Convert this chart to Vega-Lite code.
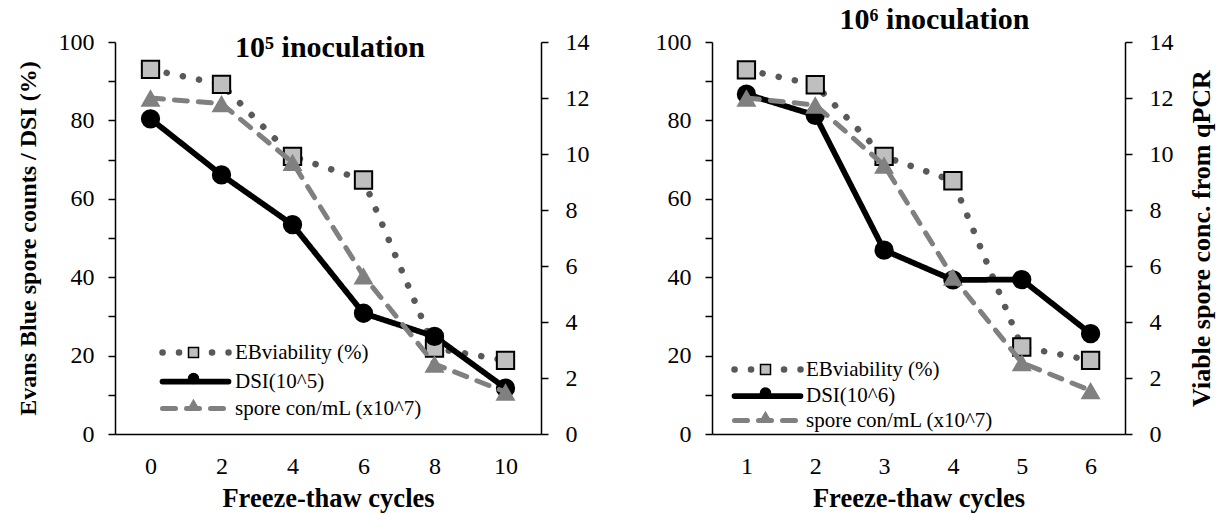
{
  "$schema": "https://vega.github.io/schema/vega-lite/v6.json",
  "background": "white",
  "padding": {"left": 16, "top": 5, "right": 5, "bottom": 2},
  "spacing": 171,
  "bounds": "flush",
  "config": {
    "view": {"stroke": null},
    "font": "Liberation Serif",
    "axis": {
      "grid": false,
      "labelFont": "Liberation Serif",
      "labelFontSize": 24,
      "labelColor": "black",
      "titleFont": "Liberation Serif",
      "titleFontSize": 24,
      "titleFontWeight": "bold",
      "titleColor": "black",
      "domainColor": "black",
      "domainWidth": 1.5,
      "tickColor": "black",
      "tickWidth": 1.5,
      "tickSize": 7,
      "labelPadding": 14
    }
  },
  "datasets": {
    "a": [
      {"cycle": 0, "series": "EBviability (%)", "value": 93.0},
      {"cycle": 2, "series": "EBviability (%)", "value": 89.2},
      {"cycle": 4, "series": "EBviability (%)", "value": 70.8},
      {"cycle": 6, "series": "EBviability (%)", "value": 64.8},
      {"cycle": 8, "series": "EBviability (%)", "value": 21.9},
      {"cycle": 10, "series": "EBviability (%)", "value": 18.8},
      {"cycle": 0, "series": "DSI(10^5)", "value": 80.4},
      {"cycle": 2, "series": "DSI(10^5)", "value": 66.1},
      {"cycle": 4, "series": "DSI(10^5)", "value": 53.4},
      {"cycle": 6, "series": "DSI(10^5)", "value": 30.8},
      {"cycle": 8, "series": "DSI(10^5)", "value": 24.9},
      {"cycle": 10, "series": "DSI(10^5)", "value": 11.7},
      {"cycle": 0, "series": "spore con/mL (x10^7)", "value": 12.0},
      {"cycle": 2, "series": "spore con/mL (x10^7)", "value": 11.8},
      {"cycle": 4, "series": "spore con/mL (x10^7)", "value": 9.7},
      {"cycle": 6, "series": "spore con/mL (x10^7)", "value": 5.65},
      {"cycle": 8, "series": "spore con/mL (x10^7)", "value": 2.5},
      {"cycle": 10, "series": "spore con/mL (x10^7)", "value": 1.5}
    ],
    "b": [
      {"cycle": 1, "series": "EBviability (%)", "value": 92.9},
      {"cycle": 2, "series": "EBviability (%)", "value": 89.1},
      {"cycle": 3, "series": "EBviability (%)", "value": 70.8},
      {"cycle": 4, "series": "EBviability (%)", "value": 64.6},
      {"cycle": 5, "series": "EBviability (%)", "value": 22.2},
      {"cycle": 6, "series": "EBviability (%)", "value": 18.8},
      {"cycle": 1, "series": "DSI(10^6)", "value": 86.7},
      {"cycle": 2, "series": "DSI(10^6)", "value": 81.3},
      {"cycle": 3, "series": "DSI(10^6)", "value": 46.9},
      {"cycle": 4, "series": "DSI(10^6)", "value": 39.3},
      {"cycle": 5, "series": "DSI(10^6)", "value": 39.4},
      {"cycle": 6, "series": "DSI(10^6)", "value": 25.6},
      {"cycle": 1, "series": "spore con/mL (x10^7)", "value": 12.0},
      {"cycle": 2, "series": "spore con/mL (x10^7)", "value": 11.75},
      {"cycle": 3, "series": "spore con/mL (x10^7)", "value": 9.6},
      {"cycle": 4, "series": "spore con/mL (x10^7)", "value": 5.6},
      {"cycle": 5, "series": "spore con/mL (x10^7)", "value": 2.55},
      {"cycle": 6, "series": "spore con/mL (x10^7)", "value": 1.55}
    ]
  },
  "resolve": {
    "scale": {"stroke": "independent", "strokeDash": "independent", "strokeWidth": "independent", "shape": "independent", "fill": "independent"},
    "legend": {"stroke": "independent", "strokeDash": "independent", "shape": "independent", "fill": "independent"}
  },
  "hconcat": [
    {
      "width": 426,
      "height": 392,
      "data": {"name": "a"},
      "title": {"text": "10⁵ inoculation", "font": "Liberation Serif", "fontSize": 30, "fontWeight": "bold", "color": "black", "anchor": "middle", "baseline": "middle", "offset": -48, "dx": 2},
      "encoding": {
        "x": {"field": "cycle", "type": "ordinal", "scale": {"type": "point", "padding": 0.5},
          "axis": {"title": "Freeze-thaw cycles", "titleFontSize": 26.5, "labelAngle": 0, "ticks": false, "labelPadding": 20, "titlePadding": 7}}
      },
      "layer": [
        {
          "transform": [{"filter": "datum.series !== 'spore con/mL (x10^7)'"}],
          "encoding": {
            "y": {"field": "value", "type": "quantitative", "scale": {"domain": [0, 100], "nice": false},
              "axis": {"values": [0, 10, 20, 30, 40, 50, 60, 70, 80, 90, 100], "labelExpr": "datum.value % 20 === 0 ? datum.label : ''", "title": "Evans Blue spore counts / DSI (%)", "titlePadding": 18}}
          },
          "layer": [
            {
              "mark": {"type": "line", "strokeCap": "round", "strokeJoin": "round"},
              "encoding": {
                "stroke": {"field": "series", "type": "nominal",
                  "scale": {"domain": ["EBviability (%)", "DSI(10^5)", "spore con/mL (x10^7)"], "range": ["#595959", "#000000", "#808080"]},
                  "legend": {"orient": "none", "legendX": 70, "legendY": 300, "title": null, "symbolType": "M-5.5,0H5.5", "symbolSize": 144, "symbolStrokeWidth": 5.5, "labelOffset": 29, "labelFont": "Liberation Serif", "labelFontSize": 21, "labelColor": "black", "labelLimit": 400, "rowPadding": 4, "padding": 0,
                    "encode": {"symbols": {"update": {"strokeCap": {"value": "round"}}}}}},
                "strokeDash": {"field": "series", "type": "nominal",
                  "scale": {"domain": ["EBviability (%)", "DSI(10^5)", "spore con/mL (x10^7)"], "range": [[0.1, 16.4], [1, 0], [13, 11]]},
                  "legend": {"orient": "none", "legendX": 70, "legendY": 300, "title": null, "symbolType": "M-5.5,0H5.5", "symbolSize": 144, "symbolStrokeWidth": 5.5, "labelOffset": 29, "labelFont": "Liberation Serif", "labelFontSize": 21, "labelColor": "black", "labelLimit": 400, "rowPadding": 4, "padding": 0,
                    "encode": {"symbols": {"update": {"strokeCap": {"value": "round"}}}}}},
                "strokeWidth": {"field": "series", "type": "nominal",
                  "scale": {"type": "point", "padding": 0, "domain": ["EBviability (%)", "DSI(10^5)", "spore con/mL (x10^7)"], "range": [6.5, 5]}, "legend": null}
              }
            },
            {
              "mark": {"type": "point", "filled": true, "opacity": 1, "strokeWidth": 2, "size": 300,
                "stroke": {"expr": "datum.value === 'spore con/mL (x10^7)' ? '#808080' : 'black'"}},
              "encoding": {
                "shape": {"field": "series", "type": "nominal", "sort": ["EBviability (%)", "DSI(10^5)", "spore con/mL (x10^7)"],
                  "scale": {"range": ["square", "circle", "triangle-up"]}, "legend": null},
                "fill": {"field": "series", "type": "nominal", "sort": ["EBviability (%)", "DSI(10^5)", "spore con/mL (x10^7)"],
                  "scale": {"range": ["#BFBFBF", "#000000", "#808080"]},
                  "legend": {"orient": "none", "legendX": 68, "legendY": 300, "title": null, "labelOpacity": 0, "labelFont": "Liberation Serif", "labelFontSize": 21, "labelLimit": 400, "rowPadding": 4, "padding": 0, "symbolOpacity": 1,
                    "symbolType": {"expr": "datum.value === 'spore con/mL (x10^7)' ? 'triangle-up' : (datum.value === 'EBviability (%)' ? 'square' : 'circle')"},
                    "encode": {"symbols": {"update": {
                      "strokeWidth": {"value": 1.5},
                      "size": [{"test": "datum.value === 'spore con/mL (x10^7)'", "value": 150}, {"value": 100}]}}}}}
              }
            }
          ]
        },
        {
          "transform": [{"filter": "datum.series === 'spore con/mL (x10^7)'"}],
          "encoding": {
            "y": {"field": "value", "type": "quantitative", "scale": {"domain": [0, 14], "nice": false},
              "axis": {"orient": "right", "values": [0, 2, 4, 6, 8, 10, 12, 14], "title": null, "labelPadding": 17}}
          },
          "layer": [
            {
              "mark": {"type": "line", "strokeCap": "round", "strokeJoin": "round"},
              "encoding": {
                "stroke": {"field": "series", "type": "nominal"},
                "strokeDash": {"field": "series", "type": "nominal"},
                "strokeWidth": {"field": "series", "type": "nominal", "legend": null}
              }
            },
            {
              "mark": {"type": "point", "filled": true, "opacity": 1, "strokeWidth": 0, "size": 400},
              "encoding": {
                "shape": {"field": "series", "type": "nominal", "sort": ["EBviability (%)", "DSI(10^5)", "spore con/mL (x10^7)"], "legend": null},
                "fill": {"field": "series", "type": "nominal", "sort": ["EBviability (%)", "DSI(10^5)", "spore con/mL (x10^7)"]}
              }
            }
          ]
        }
      ],
      "resolve": {"scale": {"y": "independent"}}
    },
    {
      "width": 413,
      "height": 392,
      "data": {"name": "b"},
      "title": {"text": "10⁶ inoculation", "font": "Liberation Serif", "fontSize": 30, "fontWeight": "bold", "color": "black", "anchor": "middle", "baseline": "middle", "offset": -20, "dx": 16},
      "encoding": {
        "x": {"field": "cycle", "type": "ordinal", "scale": {"type": "point", "padding": 0.5},
          "axis": {"title": "Freeze-thaw cycles", "titleFontSize": 26.5, "labelAngle": 0, "ticks": false, "labelPadding": 20, "titlePadding": 7}}
      },
      "layer": [
        {
          "transform": [{"filter": "datum.series !== 'spore con/mL (x10^7)'"}],
          "encoding": {
            "y": {"field": "value", "type": "quantitative", "scale": {"domain": [0, 100], "nice": false},
              "axis": {"values": [0, 10, 20, 30, 40, 50, 60, 70, 80, 90, 100], "labelExpr": "datum.value % 20 === 0 ? datum.label : ''", "title": null}}
          },
          "layer": [
            {
              "mark": {"type": "line", "strokeCap": "round", "strokeJoin": "round"},
              "encoding": {
                "stroke": {"field": "series", "type": "nominal",
                  "scale": {"domain": ["EBviability (%)", "DSI(10^6)", "spore con/mL (x10^7)"], "range": ["#595959", "#000000", "#808080"]},
                  "legend": {"orient": "none", "legendX": 45, "legendY": 317, "title": null, "symbolType": "M-5.5,0H5.5", "symbolSize": 144, "symbolStrokeWidth": 5.5, "labelOffset": 28, "labelFont": "Liberation Serif", "labelFontSize": 21, "labelColor": "black", "labelLimit": 400, "rowPadding": 1.5, "padding": 0,
                    "encode": {"symbols": {"update": {"strokeCap": {"value": "round"}}}}}},
                "strokeDash": {"field": "series", "type": "nominal",
                  "scale": {"domain": ["EBviability (%)", "DSI(10^6)", "spore con/mL (x10^7)"], "range": [[0.1, 16.4], [1, 0], [13, 11]]},
                  "legend": {"orient": "none", "legendX": 45, "legendY": 317, "title": null, "symbolType": "M-5.5,0H5.5", "symbolSize": 144, "symbolStrokeWidth": 5.5, "labelOffset": 28, "labelFont": "Liberation Serif", "labelFontSize": 21, "labelColor": "black", "labelLimit": 400, "rowPadding": 1.5, "padding": 0,
                    "encode": {"symbols": {"update": {"strokeCap": {"value": "round"}}}}}},
                "strokeWidth": {"field": "series", "type": "nominal",
                  "scale": {"type": "point", "padding": 0, "domain": ["EBviability (%)", "DSI(10^6)", "spore con/mL (x10^7)"], "range": [6.5, 5]}, "legend": null}
              }
            },
            {
              "mark": {"type": "point", "filled": true, "opacity": 1, "strokeWidth": 2, "size": 300,
                "stroke": {"expr": "datum.value === 'spore con/mL (x10^7)' ? '#808080' : 'black'"}},
              "encoding": {
                "shape": {"field": "series", "type": "nominal", "sort": ["EBviability (%)", "DSI(10^6)", "spore con/mL (x10^7)"],
                  "scale": {"range": ["square", "circle", "triangle-up"]}, "legend": null},
                "fill": {"field": "series", "type": "nominal", "sort": ["EBviability (%)", "DSI(10^6)", "spore con/mL (x10^7)"],
                  "scale": {"range": ["#BFBFBF", "#000000", "#808080"]},
                  "legend": {"orient": "none", "legendX": 43, "legendY": 317, "title": null, "labelOpacity": 0, "labelFont": "Liberation Serif", "labelFontSize": 21, "labelLimit": 400, "rowPadding": 1.5, "padding": 0, "symbolOpacity": 1,
                    "symbolType": {"expr": "datum.value === 'spore con/mL (x10^7)' ? 'triangle-up' : (datum.value === 'EBviability (%)' ? 'square' : 'circle')"},
                    "encode": {"symbols": {"update": {
                      "strokeWidth": {"value": 1.5},
                      "size": [{"test": "datum.value === 'spore con/mL (x10^7)'", "value": 150}, {"value": 100}]}}}}}
              }
            }
          ]
        },
        {
          "transform": [{"filter": "datum.series === 'spore con/mL (x10^7)'"}],
          "encoding": {
            "y": {"field": "value", "type": "quantitative", "scale": {"domain": [0, 14], "nice": false},
              "axis": {"orient": "right", "values": [0, 2, 4, 6, 8, 10, 12, 14], "title": "Viable spore conc. from qPCR", "titleFontSize": 26, "titleAngle": 270, "titleBaseline": "top", "titlePadding": 15, "labelPadding": 17}}
          },
          "layer": [
            {
              "mark": {"type": "line", "strokeCap": "round", "strokeJoin": "round"},
              "encoding": {
                "stroke": {"field": "series", "type": "nominal"},
                "strokeDash": {"field": "series", "type": "nominal"},
                "strokeWidth": {"field": "series", "type": "nominal", "legend": null}
              }
            },
            {
              "mark": {"type": "point", "filled": true, "opacity": 1, "strokeWidth": 0, "size": 400},
              "encoding": {
                "shape": {"field": "series", "type": "nominal", "sort": ["EBviability (%)", "DSI(10^6)", "spore con/mL (x10^7)"], "legend": null},
                "fill": {"field": "series", "type": "nominal", "sort": ["EBviability (%)", "DSI(10^6)", "spore con/mL (x10^7)"]}
              }
            }
          ]
        }
      ],
      "resolve": {"scale": {"y": "independent"}}
    }
  ]
}
